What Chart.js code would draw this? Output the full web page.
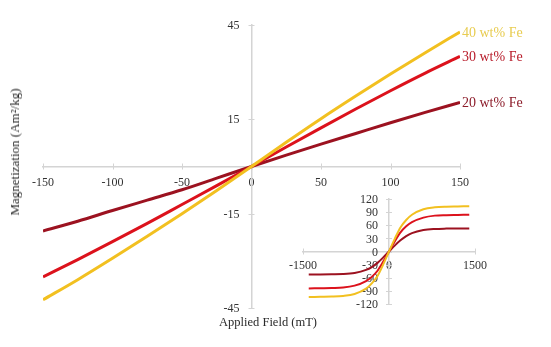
<!DOCTYPE html>
<html>
<head>
<meta charset="utf-8">
<script src="https://cdn.jsdelivr.net/npm/chart.js@4"></script>
<style>
  body { margin: 0; background: #fff; }
  #wrap { position: relative; width: 551px; height: 347px; font-family: "Liberation Serif", serif; color: #2a2a2a; }
  #main { position: absolute; left: 0; top: 0; }
  #inset { position: absolute; left: 270px; top: 185px; }
  .ytitle { position: absolute; left: 15px; top: 152px; transform: translate(-50%, -50%) rotate(-90deg); font-size: 13px; font-weight: normal; white-space: nowrap; }
  .xtitle { position: absolute; left: 268px; top: 322px; transform: translate(-50%, -50%); font-size: 12.5px; white-space: nowrap; }
</style>
</head>
<body>
<div id="wrap">
  <canvas id="main" width="551" height="347"></canvas>
  <canvas id="inset" width="230" height="135"></canvas>
  <div class="ytitle">Magnetization (Am²/kg)</div>
  <div class="xtitle">Applied Field (mT)</div>
</div>
<script>
// main plot: low field region
const field = [-150, -125, -100, -75, -50, -25, 0, 25, 50, 75, 100, 125, 150];
const fe40 = [-42.4, -36.0, -29.2, -22.2, -15.0, -7.6, 0, 7.7, 15.2, 22.4, 29.4, 36.2, 42.8];
const fe30 = [-35.1, -29.6, -23.9, -18.1, -12.1, -6.1, 0, 6.2, 12.3, 18.3, 24.1, 29.7, 35.0];
const fe20 = [-20.5, -17.4, -14.0, -10.7, -7.4, -3.7, 0, 3.6, 7.1, 10.5, 13.9, 17.2, 20.4];
const seriesNames = ['40 wt% Fe', '30 wt% Fe', '20 wt% Fe'];
const colors = ['#f2c020', '#dc121c', '#9c1220'];
const labelColors = ['#e8cc50', '#b81c2a', '#8c1c2a'];

// inset: full loop
const fieldFull = [-1400, -1200, -1000, -800, -600, -400, -300, -200, -100, 0, 100, 200, 300, 400, 600, 800, 1000, 1200, 1400];
const full40 = [-104, -103.5, -103, -101.5, -97, -85, -73, -56, -29.5, 0, 29, 55, 72, 84, 96.5, 101, 102.5, 103, 103.5];
const full30 = [-84.5, -84, -83.5, -82.5, -78, -67.5, -58, -44, -23, 0, 23, 43.5, 57.5, 67, 77.5, 82, 83, 83.5, 84];
const full20 = [-52.5, -52.3, -52, -51.5, -49, -42, -35.5, -26, -13.5, 0, 13.5, 25.5, 35, 42, 49, 51.5, 52.3, 52.6, 52.8];

const tickFont = { family: 'Liberation Serif', size: 12 };

function pts(xs, ys) {
  return xs.map((x, i) => ({ x: x, y: ys[i] }));
}

// tick marks crossing the centred axes, plus the y labels
function crossTicks(gap) {
  return {
    id: 'crossTicks',
    beforeDatasetsDraw(chart) {
      const ctx = chart.ctx;
      const xs = chart.scales.x, ys = chart.scales.y;
      const y0 = ys.getPixelForValue(0), x0 = xs.getPixelForValue(0);
      ctx.save();
      ctx.strokeStyle = '#d4d4d4';
      ctx.lineWidth = 1;
      ctx.beginPath();
      xs.ticks.forEach(t => {
        const p = Math.round(xs.getPixelForValue(t.value)) + 0.5;
        ctx.moveTo(p, y0 - 3); ctx.lineTo(p, y0 + 3);
      });
      ys.ticks.forEach(t => {
        const p = Math.round(ys.getPixelForValue(t.value)) + 0.5;
        ctx.moveTo(x0 - 3, p); ctx.lineTo(x0 + 3, p);
      });
      ctx.stroke();
      ctx.fillStyle = '#333';
      ctx.font = '12px "Liberation Serif"';
      ctx.textAlign = 'right';
      ctx.textBaseline = 'middle';
      ys.ticks.forEach(t => {
        ctx.fillText(String(t.value), x0 - gap, ys.getPixelForValue(t.value) + 1);
      });
      ctx.restore();
    }
  };
}

// series names at the end of each curve
const endLabels = {
  id: 'endLabels',
  afterDatasetsDraw(chart) {
    const ctx = chart.ctx;
    ctx.save();
    ctx.font = '14px "Liberation Serif"';
    ctx.textAlign = 'left';
    ctx.textBaseline = 'middle';
    chart.data.datasets.forEach((ds, i) => {
      const last = ds.data[ds.data.length - 1];
      const px = chart.scales.x.getPixelForValue(last.x);
      const py = chart.scales.y.getPixelForValue(last.y);
      ctx.fillStyle = labelColors[i];
      ctx.fillText(seriesNames[i], px + 2, py + 1);
    });
    ctx.restore();
  }
};

function axis(min, max, step, pos, pad, show) {
  return {
    type: 'linear',
    min: min, max: max,
    position: pos,
    border: { display: true, color: '#d4d4d4', width: 1.5 },
    grid: { drawOnChartArea: false, color: 'rgba(0,0,0,0)', tickLength: 4 },
    ticks: {
      display: show, stepSize: step, font: tickFont, color: '#333', padding: pad,
      autoSkip: false, maxRotation: 0,
      callback: v => String(v)
    }
  };
}

new Chart(document.getElementById('main'), {
  type: 'line',
  data: {
    datasets: [fe40, fe30, fe20].map((ys, i) => ({
      label: seriesNames[i],
      data: pts(field, ys),
      borderColor: colors[i],
      borderWidth: 3,
      pointRadius: 0,
      cubicInterpolationMode: 'monotone'
    }))
  },
  options: {
    responsive: false,
    animation: false,
    layout: { padding: { left: 43, right: 91, top: 25, bottom: 39 } },
    plugins: { legend: { display: false }, tooltip: { enabled: false } },
    scales: {
      x: axis(-150, 150, 50, { y: 0 }, 5, true),
      y: axis(-45, 45, 30, { x: 0 }, 7, false)
    }
  },
  plugins: [crossTicks(12), endLabels]
});

new Chart(document.getElementById('inset'), {
  type: 'line',
  data: {
    datasets: [full40, full30, full20].map((ys, i) => ({
      label: seriesNames[i],
      data: pts(fieldFull, ys),
      borderColor: colors[i],
      borderWidth: 2,
      pointRadius: 0,
      cubicInterpolationMode: 'monotone'
    }))
  },
  options: {
    responsive: false,
    animation: false,
    layout: { padding: { left: 33, right: 25, top: 14, bottom: 16 } },
    plugins: { legend: { display: false }, tooltip: { enabled: false } },
    scales: {
      x: axis(-1500, 1500, 1500, { y: 0 }, 3, true),
      y: axis(-120, 120, 30, { x: 0 }, 6, false)
    }
  },
  plugins: [crossTicks(11)]
});
</script>
</body>
</html>
